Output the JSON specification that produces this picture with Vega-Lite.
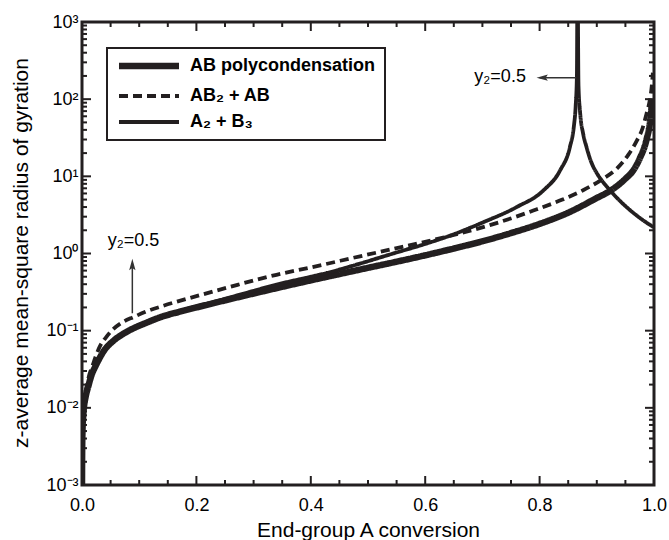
{
  "$schema": "https://vega.github.io/schema/vega-lite/v6.json",
  "width": 572,
  "height": 463,
  "autosize": {"type": "none"},
  "padding": {"left": 82, "top": 22, "right": 15, "bottom": 55},
  "config": {
    "font": "Liberation Sans",
    "view": {"stroke": "#231f20", "strokeWidth": 3},
    "axis": {
      "domain": false,
      "ticks": false,
      "labelColor": "black",
      "labelFontSize": 18,
      "titleFontSize": 21,
      "titleFontWeight": "normal",
      "titleColor": "black",
      "grid": false
    }
  },
  "datasets": {
    "curves": [
      {"x": 0, "y": 0.001, "series": "AB polycondensation", "seg": "ab"},
      {"x": 0.0003, "y": 0.003, "series": "AB polycondensation", "seg": "ab"},
      {"x": 0.001, "y": 0.0055, "series": "AB polycondensation", "seg": "ab"},
      {"x": 0.002, "y": 0.0078, "series": "AB polycondensation", "seg": "ab"},
      {"x": 0.0035, "y": 0.0104, "series": "AB polycondensation", "seg": "ab"},
      {"x": 0.006, "y": 0.0135, "series": "AB polycondensation", "seg": "ab"},
      {"x": 0.011, "y": 0.019, "series": "AB polycondensation", "seg": "ab"},
      {"x": 0.017, "y": 0.027, "series": "AB polycondensation", "seg": "ab"},
      {"x": 0.023, "y": 0.034, "series": "AB polycondensation", "seg": "ab"},
      {"x": 0.03, "y": 0.043, "series": "AB polycondensation", "seg": "ab"},
      {"x": 0.037, "y": 0.053, "series": "AB polycondensation", "seg": "ab"},
      {"x": 0.055, "y": 0.074, "series": "AB polycondensation", "seg": "ab"},
      {"x": 0.07, "y": 0.089, "series": "AB polycondensation", "seg": "ab"},
      {"x": 0.084, "y": 0.102, "series": "AB polycondensation", "seg": "ab"},
      {"x": 0.113, "y": 0.127, "series": "AB polycondensation", "seg": "ab"},
      {"x": 0.14, "y": 0.152, "series": "AB polycondensation", "seg": "ab"},
      {"x": 0.171, "y": 0.176, "series": "AB polycondensation", "seg": "ab"},
      {"x": 0.2, "y": 0.2, "series": "AB polycondensation", "seg": "ab"},
      {"x": 0.25, "y": 0.247, "series": "AB polycondensation", "seg": "ab"},
      {"x": 0.3, "y": 0.303, "series": "AB polycondensation", "seg": "ab"},
      {"x": 0.35, "y": 0.37, "series": "AB polycondensation", "seg": "ab"},
      {"x": 0.4, "y": 0.449, "series": "AB polycondensation", "seg": "ab"},
      {"x": 0.45, "y": 0.542, "series": "AB polycondensation", "seg": "ab"},
      {"x": 0.5, "y": 0.652, "series": "AB polycondensation", "seg": "ab"},
      {"x": 0.55, "y": 0.783, "series": "AB polycondensation", "seg": "ab"},
      {"x": 0.6, "y": 0.947, "series": "AB polycondensation", "seg": "ab"},
      {"x": 0.65, "y": 1.16, "series": "AB polycondensation", "seg": "ab"},
      {"x": 0.7, "y": 1.44, "series": "AB polycondensation", "seg": "ab"},
      {"x": 0.75, "y": 1.84, "series": "AB polycondensation", "seg": "ab"},
      {"x": 0.8, "y": 2.42, "series": "AB polycondensation", "seg": "ab"},
      {"x": 0.85, "y": 3.38, "series": "AB polycondensation", "seg": "ab"},
      {"x": 0.9, "y": 5.24, "series": "AB polycondensation", "seg": "ab"},
      {"x": 0.925, "y": 6.6, "series": "AB polycondensation", "seg": "ab"},
      {"x": 0.95, "y": 9.3, "series": "AB polycondensation", "seg": "ab"},
      {"x": 0.964, "y": 12, "series": "AB polycondensation", "seg": "ab"},
      {"x": 0.975, "y": 17, "series": "AB polycondensation", "seg": "ab"},
      {"x": 0.987, "y": 30, "series": "AB polycondensation", "seg": "ab"},
      {"x": 0.993, "y": 50, "series": "AB polycondensation", "seg": "ab"},
      {"x": 0.997, "y": 100, "series": "AB polycondensation", "seg": "ab"},

      {"x": 0.0003, "y": 0.003, "series": "AB₂ + AB", "seg": "ab2"},
      {"x": 0.001, "y": 0.006, "series": "AB₂ + AB", "seg": "ab2"},
      {"x": 0.004, "y": 0.012, "series": "AB₂ + AB", "seg": "ab2"},
      {"x": 0.01, "y": 0.022, "series": "AB₂ + AB", "seg": "ab2"},
      {"x": 0.02, "y": 0.038, "series": "AB₂ + AB", "seg": "ab2"},
      {"x": 0.031, "y": 0.062, "series": "AB₂ + AB", "seg": "ab2"},
      {"x": 0.042, "y": 0.082, "series": "AB₂ + AB", "seg": "ab2"},
      {"x": 0.052, "y": 0.1, "series": "AB₂ + AB", "seg": "ab2"},
      {"x": 0.072, "y": 0.13, "series": "AB₂ + AB", "seg": "ab2"},
      {"x": 0.09, "y": 0.15, "series": "AB₂ + AB", "seg": "ab2"},
      {"x": 0.115, "y": 0.18, "series": "AB₂ + AB", "seg": "ab2"},
      {"x": 0.142, "y": 0.21, "series": "AB₂ + AB", "seg": "ab2"},
      {"x": 0.2, "y": 0.28, "series": "AB₂ + AB", "seg": "ab2"},
      {"x": 0.259, "y": 0.37, "series": "AB₂ + AB", "seg": "ab2"},
      {"x": 0.311, "y": 0.47, "series": "AB₂ + AB", "seg": "ab2"},
      {"x": 0.34, "y": 0.53, "series": "AB₂ + AB", "seg": "ab2"},
      {"x": 0.4, "y": 0.66, "series": "AB₂ + AB", "seg": "ab2"},
      {"x": 0.486, "y": 0.92, "series": "AB₂ + AB", "seg": "ab2"},
      {"x": 0.56, "y": 1.22, "series": "AB₂ + AB", "seg": "ab2"},
      {"x": 0.643, "y": 1.69, "series": "AB₂ + AB", "seg": "ab2"},
      {"x": 0.713, "y": 2.33, "series": "AB₂ + AB", "seg": "ab2"},
      {"x": 0.789, "y": 3.6, "series": "AB₂ + AB", "seg": "ab2"},
      {"x": 0.84, "y": 5.0, "series": "AB₂ + AB", "seg": "ab2"},
      {"x": 0.876, "y": 6.6, "series": "AB₂ + AB", "seg": "ab2"},
      {"x": 0.91, "y": 9.2, "series": "AB₂ + AB", "seg": "ab2"},
      {"x": 0.935, "y": 12.6, "series": "AB₂ + AB", "seg": "ab2"},
      {"x": 0.955, "y": 19, "series": "AB₂ + AB", "seg": "ab2"},
      {"x": 0.97, "y": 29, "series": "AB₂ + AB", "seg": "ab2"},
      {"x": 0.98, "y": 42, "series": "AB₂ + AB", "seg": "ab2"},
      {"x": 0.987, "y": 65, "series": "AB₂ + AB", "seg": "ab2"},
      {"x": 0.993, "y": 100, "series": "AB₂ + AB", "seg": "ab2"},
      {"x": 0.996, "y": 145, "series": "AB₂ + AB", "seg": "ab2"},
      {"x": 0.998, "y": 220, "series": "AB₂ + AB", "seg": "ab2"},

      {"x": 0, "y": 0.001, "series": "A₂ + B₃", "seg": "pre"},
      {"x": 0.0003, "y": 0.003, "series": "A₂ + B₃", "seg": "pre"},
      {"x": 0.001, "y": 0.0055, "series": "A₂ + B₃", "seg": "pre"},
      {"x": 0.0035, "y": 0.0105, "series": "A₂ + B₃", "seg": "pre"},
      {"x": 0.011, "y": 0.019, "series": "A₂ + B₃", "seg": "pre"},
      {"x": 0.023, "y": 0.034, "series": "A₂ + B₃", "seg": "pre"},
      {"x": 0.055, "y": 0.075, "series": "A₂ + B₃", "seg": "pre"},
      {"x": 0.084, "y": 0.104, "series": "A₂ + B₃", "seg": "pre"},
      {"x": 0.113, "y": 0.13, "series": "A₂ + B₃", "seg": "pre"},
      {"x": 0.171, "y": 0.18, "series": "A₂ + B₃", "seg": "pre"},
      {"x": 0.23, "y": 0.235, "series": "A₂ + B₃", "seg": "pre"},
      {"x": 0.288, "y": 0.31, "series": "A₂ + B₃", "seg": "pre"},
      {"x": 0.34, "y": 0.395, "series": "A₂ + B₃", "seg": "pre"},
      {"x": 0.4, "y": 0.5, "series": "A₂ + B₃", "seg": "pre"},
      {"x": 0.428, "y": 0.56, "series": "A₂ + B₃", "seg": "pre"},
      {"x": 0.486, "y": 0.74, "series": "A₂ + B₃", "seg": "pre"},
      {"x": 0.544, "y": 1.0, "series": "A₂ + B₃", "seg": "pre"},
      {"x": 0.6, "y": 1.33, "series": "A₂ + B₃", "seg": "pre"},
      {"x": 0.643, "y": 1.7, "series": "A₂ + B₃", "seg": "pre"},
      {"x": 0.702, "y": 2.55, "series": "A₂ + B₃", "seg": "pre"},
      {"x": 0.76, "y": 4.0, "series": "A₂ + B₃", "seg": "pre"},
      {"x": 0.807, "y": 6.6, "series": "A₂ + B₃", "seg": "pre"},
      {"x": 0.836, "y": 12, "series": "A₂ + B₃", "seg": "pre"},
      {"x": 0.853, "y": 24, "series": "A₂ + B₃", "seg": "pre"},
      {"x": 0.86, "y": 45, "series": "A₂ + B₃", "seg": "pre"},
      {"x": 0.863, "y": 80, "series": "A₂ + B₃", "seg": "pre"},
      {"x": 0.8652, "y": 200, "series": "A₂ + B₃", "seg": "pre"},
      {"x": 0.866, "y": 3000, "series": "A₂ + B₃", "seg": "pre"},

      {"x": 0.8668, "y": 3000, "series": "A₂ + B₃", "seg": "post"},
      {"x": 0.868, "y": 150, "series": "A₂ + B₃", "seg": "post"},
      {"x": 0.871, "y": 65, "series": "A₂ + B₃", "seg": "post"},
      {"x": 0.876, "y": 36, "series": "A₂ + B₃", "seg": "post"},
      {"x": 0.882, "y": 24, "series": "A₂ + B₃", "seg": "post"},
      {"x": 0.89, "y": 15.5, "series": "A₂ + B₃", "seg": "post"},
      {"x": 0.9, "y": 11, "series": "A₂ + B₃", "seg": "post"},
      {"x": 0.91, "y": 8.6, "series": "A₂ + B₃", "seg": "post"},
      {"x": 0.923, "y": 6.6, "series": "A₂ + B₃", "seg": "post"},
      {"x": 0.937, "y": 5.1, "series": "A₂ + B₃", "seg": "post"},
      {"x": 0.952, "y": 4.0, "series": "A₂ + B₃", "seg": "post"},
      {"x": 0.975, "y": 2.9, "series": "A₂ + B₃", "seg": "post"},
      {"x": 0.999, "y": 2.2, "series": "A₂ + B₃", "seg": "post"}
    ],
    "xticks": [
      {"t": 0, "kind": "major"}, {"t": 0.05, "kind": "minor"}, {"t": 0.1, "kind": "minor"}, {"t": 0.15, "kind": "minor"},
      {"t": 0.2, "kind": "major"}, {"t": 0.25, "kind": "minor"}, {"t": 0.3, "kind": "minor"}, {"t": 0.35, "kind": "minor"},
      {"t": 0.4, "kind": "major"}, {"t": 0.45, "kind": "minor"}, {"t": 0.5, "kind": "minor"}, {"t": 0.55, "kind": "minor"},
      {"t": 0.6, "kind": "major"}, {"t": 0.65, "kind": "minor"}, {"t": 0.7, "kind": "minor"}, {"t": 0.75, "kind": "minor"},
      {"t": 0.8, "kind": "major"}, {"t": 0.85, "kind": "minor"}, {"t": 0.9, "kind": "minor"}, {"t": 0.95, "kind": "minor"},
      {"t": 1, "kind": "major"}
    ],
    "yticks": [
      {"t": 0.001, "kind": "major"}, {"t": 0.002, "kind": "minor"}, {"t": 0.003, "kind": "minor"}, {"t": 0.004, "kind": "minor"}, {"t": 0.005, "kind": "minor"}, {"t": 0.006, "kind": "minor"}, {"t": 0.007, "kind": "minor"}, {"t": 0.008, "kind": "minor"}, {"t": 0.009, "kind": "minor"},
      {"t": 0.01, "kind": "major"}, {"t": 0.02, "kind": "minor"}, {"t": 0.03, "kind": "minor"}, {"t": 0.04, "kind": "minor"}, {"t": 0.05, "kind": "minor"}, {"t": 0.06, "kind": "minor"}, {"t": 0.07, "kind": "minor"}, {"t": 0.08, "kind": "minor"}, {"t": 0.09, "kind": "minor"},
      {"t": 0.1, "kind": "major"}, {"t": 0.2, "kind": "minor"}, {"t": 0.3, "kind": "minor"}, {"t": 0.4, "kind": "minor"}, {"t": 0.5, "kind": "minor"}, {"t": 0.6, "kind": "minor"}, {"t": 0.7, "kind": "minor"}, {"t": 0.8, "kind": "minor"}, {"t": 0.9, "kind": "minor"},
      {"t": 1, "kind": "major"}, {"t": 2, "kind": "minor"}, {"t": 3, "kind": "minor"}, {"t": 4, "kind": "minor"}, {"t": 5, "kind": "minor"}, {"t": 6, "kind": "minor"}, {"t": 7, "kind": "minor"}, {"t": 8, "kind": "minor"}, {"t": 9, "kind": "minor"},
      {"t": 10, "kind": "major"}, {"t": 20, "kind": "minor"}, {"t": 30, "kind": "minor"}, {"t": 40, "kind": "minor"}, {"t": 50, "kind": "minor"}, {"t": 60, "kind": "minor"}, {"t": 70, "kind": "minor"}, {"t": 80, "kind": "minor"}, {"t": 90, "kind": "minor"},
      {"t": 100, "kind": "major"}, {"t": 200, "kind": "minor"}, {"t": 300, "kind": "minor"}, {"t": 400, "kind": "minor"}, {"t": 500, "kind": "minor"}, {"t": 600, "kind": "minor"}, {"t": 700, "kind": "minor"}, {"t": 800, "kind": "minor"}, {"t": 900, "kind": "minor"},
      {"t": 1000, "kind": "major"}
    ],
    "notes": [
      {"x": 0.09, "y": 1.45, "label": "y₂=0.5"},
      {"x": 0.731, "y": 193, "label": "y₂=0.5"}
    ],
    "shafts": [
      {"x": 0.088, "x2": 0.088, "y": 0.168, "y2": 0.75},
      {"x": 0.8, "x2": 0.864, "y": 190, "y2": 190}
    ],
    "headup": [{"x": 0.088, "y": 0.69}],
    "headleft": [{"x": 0.807, "y": 190}]
  },
  "resolve": {"axis": {"x": "independent", "y": "independent"}},
  "layer": [
    {
      "data": {"name": "xticks"},
      "mark": {"type": "tick", "orient": "vertical", "clip": true, "color": "#231f20", "thickness": 2, "opacity": 1},
      "encoding": {
        "x": {"field": "t", "type": "quantitative", "axis": null},
        "y": {"datum": 0.001, "type": "quantitative", "axis": null},
        "size": {"condition": {"test": "datum.kind === 'major'", "value": 18}, "value": 10}
      }
    },
    {
      "data": {"name": "xticks"},
      "mark": {"type": "tick", "orient": "vertical", "clip": true, "color": "#231f20", "thickness": 2, "opacity": 1},
      "encoding": {
        "x": {"field": "t", "type": "quantitative", "axis": null},
        "y": {"datum": 1000, "type": "quantitative", "axis": null},
        "size": {"condition": {"test": "datum.kind === 'major'", "value": 18}, "value": 10}
      }
    },
    {
      "data": {"name": "yticks"},
      "mark": {"type": "tick", "orient": "horizontal", "clip": true, "color": "#231f20", "thickness": 2, "opacity": 1},
      "encoding": {
        "x": {"datum": 0, "type": "quantitative", "axis": null},
        "y": {"field": "t", "type": "quantitative", "axis": null},
        "size": {"condition": {"test": "datum.kind === 'major'", "value": 18}, "value": 10}
      }
    },
    {
      "data": {"name": "yticks"},
      "mark": {"type": "tick", "orient": "horizontal", "clip": true, "color": "#231f20", "thickness": 2, "opacity": 1},
      "encoding": {
        "x": {"datum": 1, "type": "quantitative", "axis": null},
        "y": {"field": "t", "type": "quantitative", "axis": null},
        "size": {"condition": {"test": "datum.kind === 'major'", "value": 18}, "value": 10}
      }
    },
    {
      "data": {"name": "curves"},
      "mark": {"type": "line", "interpolate": "monotone", "clip": true, "color": "#231f20"},
      "encoding": {
        "x": {
          "field": "x", "type": "quantitative",
          "scale": {"domain": [0, 1], "nice": false, "zero": false},
          "axis": {
            "orient": "bottom",
            "values": [0, 0.2, 0.4, 0.6, 0.8, 1],
            "format": ".1f",
            "ticks": false,
            "labelPadding": 11,
            "labelFlush": false,
            "labelOverlap": false,
            "title": "End-group A conversion",
            "titleY": 45,
            "titleBaseline": "middle"
          }
        },
        "y": {
          "field": "y", "type": "quantitative",
          "scale": {"type": "log", "domain": [0.001, 1000], "nice": false},
          "axis": {
            "orient": "left",
            "values": [0.001, 0.01, 0.1, 1, 10, 100, 1000],
            "labelExpr": "datum.value < 0.005 ? '10⁻³' : datum.value < 0.05 ? '10⁻²' : datum.value < 0.5 ? '10⁻¹' : datum.value < 5 ? '10⁰' : datum.value < 50 ? '10¹' : datum.value < 500 ? '10²' : '10³'",
            "ticks": false,
            "labelPadding": 4,
            "labelFlush": false,
            "labelOverlap": false,
            "title": "z-average mean-square radius of gyration",
            "titleX": -61,
            "titleY": 230.5,
            "titleAngle": -90,
            "titleBaseline": "middle",
            "titleAlign": "center"
          }
        },
        "detail": {"field": "seg", "type": "nominal"},
        "strokeDash": {
          "field": "series", "type": "nominal",
          "scale": {"domain": ["AB polycondensation", "AB₂ + AB", "A₂ + B₃"], "range": [[1, 0], [9, 5], [1, 0]]},
          "legend": {
            "title": null,
            "orient": "none",
            "legendX": 25,
            "legendY": 26,
            "symbolType": "stroke",
            "symbolSize": 3600,
            "symbolOffset": 24,
            "symbolStrokeColor": "#231f20",
            "labelFontSize": 18,
            "labelFontWeight": "bold",
            "labelColor": "black",
            "labelOffset": 32,
            "labelLimit": 400,
            "rowPadding": 8,
            "padding": 9,
            "strokeColor": "#231f20",
            "fillColor": "white",
            "cornerRadius": 0,
            "zindex": 2,
            "encode": {
              "legend": {"update": {"strokeWidth": {"value": 2}}},
              "symbols": {"update": {"strokeWidth": {"signal": "datum.value === 'AB polycondensation' ? 6.5 : 4"}}}
            }
          }
        },
        "strokeWidth": {"condition": {"test": "datum.series === 'AB polycondensation'", "value": 6.5}, "value": 3.8}
      }
    },
    {
      "data": {"name": "shafts"},
      "mark": {"type": "rule", "color": "#333333", "strokeWidth": 1.5},
      "encoding": {
        "x": {"field": "x", "type": "quantitative", "axis": null},
        "x2": {"field": "x2"},
        "y": {"field": "y", "type": "quantitative", "axis": null},
        "y2": {"field": "y2"}
      }
    },
    {
      "data": {"name": "headup"},
      "mark": {"type": "point", "filled": true, "opacity": 1, "color": "#333333", "size": 200, "shape": "M0,-1L0.45,0.6L0,0.3L-0.45,0.6Z"},
      "encoding": {
        "x": {"field": "x", "type": "quantitative", "axis": null},
        "y": {"field": "y", "type": "quantitative", "axis": null}
      }
    },
    {
      "data": {"name": "headleft"},
      "mark": {"type": "point", "filled": true, "opacity": 1, "color": "#333333", "size": 200, "shape": "M-1,0L0.6,-0.45L0.3,0L0.6,0.45Z"},
      "encoding": {
        "x": {"field": "x", "type": "quantitative", "axis": null},
        "y": {"field": "y", "type": "quantitative", "axis": null}
      }
    },
    {
      "data": {"name": "notes"},
      "mark": {"type": "text", "fontSize": 18, "color": "black", "align": "center", "baseline": "middle"},
      "encoding": {
        "x": {"field": "x", "type": "quantitative", "axis": null},
        "y": {"field": "y", "type": "quantitative", "axis": null},
        "text": {"field": "label"}
      }
    }
  ]
}
